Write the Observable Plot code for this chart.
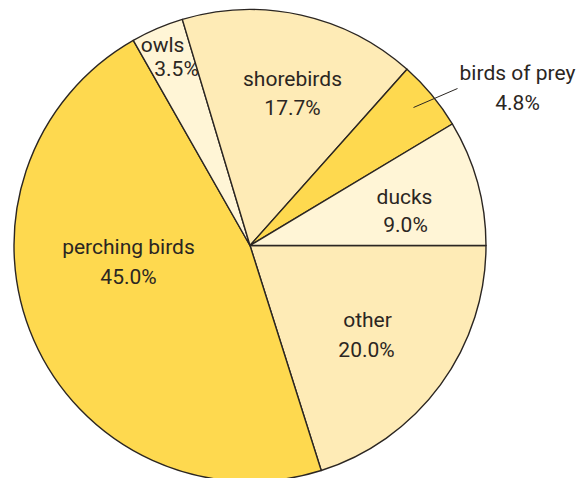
<!DOCTYPE html>
<html>
<head>
<meta charset="utf-8">
<script src="https://cdn.jsdelivr.net/npm/d3@7"></script>
<script src="https://cdn.jsdelivr.net/npm/@observablehq/plot@0.6"></script>
<style>
  html, body { margin: 0; padding: 0; background: #ffffff; }
  #chart svg { display: block; }
</style>
</head>
<body>
<div id="chart"></div>
<script>
// ---- data ----
const categories  = ["other", "perching birds", "owls", "shorebirds", "birds of prey", "ducks"];
// printed percentages (labels)
const percents    = [20.0, 45.0, 3.5, 17.7, 4.8, 9.0];
// wedge sizes as drawn in the picture (measured angles, in percent of the circle)
const drawnShares = [20.1, 46.6, 3.6, 16.2, 4.8, 8.6];
const shades      = ["#FEEBB6", "#FED94F", "#FFF5D6", "#FEEBB6", "#FED94F", "#FFF5D6"];

// ---- layout (pixel anchors of label lines, name and value) ----
const W = 580, H = 478, CX = 250, CY = 245.5, R = 236;
const nameAnchors  = [[367, 320], [128, 247], [162, 45], [292, 79], [517, 73], [404, 197]];
const valueAnchors = [[366, 350], [128, 277], [176, 69], [292, 108], [517, 103], [405, 225]];
const leader = [[413, 107], [457, 88]];

const toUx = px => (px - CX) / R;
const toUy = py => (CY - py) / R;

const slices = categories.map((c, i) => ({category: c, value: percents[i], share: drawnShares[i], color: shades[i]}));

const labels = [];
slices.forEach((s, i) => {
  labels.push({text: s.category, x: toUx(nameAnchors[i][0]), y: toUy(nameAnchors[i][1])});
  labels.push({text: s.value.toFixed(1) + "%", x: toUx(valueAnchors[i][0]), y: toUy(valueAnchors[i][1])});
});
const leaderLink = [{x1: toUx(leader[0][0]), y1: toUy(leader[0][1]), x2: toUx(leader[1][0]), y2: toUy(leader[1][1])}];

const pieGen = d3.pie().value(d => d.share).sort(null)
  .startAngle(Math.PI / 2).endAngle(Math.PI / 2 + 2 * Math.PI);
const arcsData = pieGen(slices);

function pieMark(index, scales) {
  const x = scales.x, y = scales.y;
  const cx = x(0), cy = y(0), r = x(1) - x(0);
  const arc = d3.arc().innerRadius(0).outerRadius(r);
  const g = d3.create("svg:g").attr("transform", `translate(${cx},${cy})`);
  g.selectAll("path").data(arcsData).join("path")
    .attr("d", arc)
    .attr("fill", d => d.data.color)
    .attr("stroke", "#2b2622")
    .attr("stroke-width", 1.4)
    .attr("stroke-linejoin", "round");
  return g.node();
}

const chart = Plot.plot({
  width: W,
  height: H,
  margin: 0,
  x: {domain: [toUx(0), toUx(W)], axis: null},
  y: {domain: [toUy(H), toUy(0)], axis: null},
  style: {fontFamily: "Roboto, 'Noto Sans', sans-serif", background: "#ffffff"},
  marks: [
    pieMark,
    Plot.link(leaderLink, {x1: "x1", y1: "y1", x2: "x2", y2: "y2", stroke: "#2b2622", strokeWidth: 1}),
    Plot.text(labels, {x: "x", y: "y", text: "text", fontSize: 21, fill: "#2b2622"})
  ]
});
document.getElementById("chart").appendChild(chart);
</script>
</body>
</html>
